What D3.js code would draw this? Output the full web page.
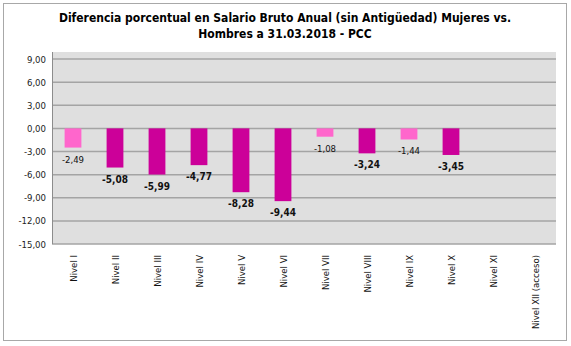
<!DOCTYPE html>
<html><head><meta charset="utf-8">
<script src="https://cdn.jsdelivr.net/npm/d3@7"></script>
<style>body{margin:0;background:#fff;} svg{display:block;}</style>
</head><body><svg id="c" width="571" height="346"></svg>
<script>
const categories = ["Nivel I","Nivel II","Nivel III","Nivel IV","Nivel V","Nivel VI","Nivel VII","Nivel VIII","Nivel IX","Nivel X","Nivel XI","Nivel XII (acceso)"];
const values = [-2.49,-5.08,-5.99,-4.77,-8.28,-9.44,-1.08,-3.24,-1.44,-3.45,null,null];
const highlight = [true,false,false,false,false,false,true,false,true,false,false,false];
const yTicks = [9,6,3,0,-3,-6,-9,-12,-15];
const titleLines = ["Diferencia porcentual en Salario Bruto Anual (sin Antigüedad) Mujeres vs.","Hombres a 31.03.2018 - PCC"];

const svg = d3.select("#c");
const font = "'DejaVu Sans Condensed','DejaVu Sans',sans-serif";
const loc = d3.formatLocale({decimal:",",thousands:".",grouping:[3],currency:["","€"],minus:"-"});
const fmt = loc.format(".2f");

svg.append("rect").attr("x",3.5).attr("y",3.5).attr("width",563).attr("height",337)
  .attr("fill","#fff").attr("stroke","#a8a8a8").attr("stroke-width",1);

const L=52, R=556, T=52, B=244;
const x = d3.scaleBand().domain(categories).range([L,R]).paddingInner(0.6).paddingOuter(0.3);
const y = d3.scaleLinear().domain([-15,9]).range([244,59]);

svg.append("rect").attr("x",L).attr("y",T).attr("width",R-L).attr("height",B-T).attr("fill","#dfdfdf");

svg.append("g").selectAll("line").data(yTicks).join("line")
  .attr("x1",L).attr("x2",R).attr("y1",d=>y(d)).attr("y2",d=>y(d))
  .attr("stroke","#a4a4a4").attr("stroke-width",1.5);

svg.append("line").attr("x1",L+0.5).attr("x2",L+0.5).attr("y1",T).attr("y2",B).attr("stroke","#8c8c8c");

svg.append("g").selectAll("text").data(yTicks).join("text")
  .attr("x",46).attr("y",d=>y(d)+3.5).attr("text-anchor","end")
  .attr("font-family",font).attr("font-size",9.5).attr("fill","#222")
  .text(d=>fmt(d));

const data = categories.map((c,i)=>({c,v:values[i],h:highlight[i]})).filter(d=>d.v!=null);
svg.append("g").selectAll("rect").data(data).join("rect")
  .attr("x",d=>x(d.c)).attr("width",x.bandwidth())
  .attr("y",y(0)).attr("height",d=>y(d.v)-y(0))
  .attr("fill",d=>d.h?"#ff66cc":"#cc0099");

svg.append("g").selectAll("text").data(data).join("text")
  .attr("x",d=>x(d.c)+x.bandwidth()/2).attr("y",d=>y(d.v)+15)
  .attr("text-anchor","middle").attr("font-family",font)
  .attr("font-size",d=>d.h?9.5:10).attr("font-weight",d=>d.h?"normal":"bold")
  .attr("fill","#111").text(d=>fmt(d.v));

svg.append("g").selectAll("text").data(categories).join("text")
  .attr("transform",d=>`translate(${x(d)+x.bandwidth()/2+3.5},255) rotate(-90)`)
  .attr("text-anchor","end").attr("font-family",font).attr("font-size",9.5).attr("fill","#111")
  .text(d=>d);

svg.append("g").selectAll("text").data(titleLines).join("text")
  .attr("x",285).attr("y",(d,i)=>22+i*16).attr("text-anchor","middle")
  .attr("font-family",font).attr("font-weight","bold").attr("font-size",12).attr("fill","#000")
  .text(d=>d);
</script></body></html>
